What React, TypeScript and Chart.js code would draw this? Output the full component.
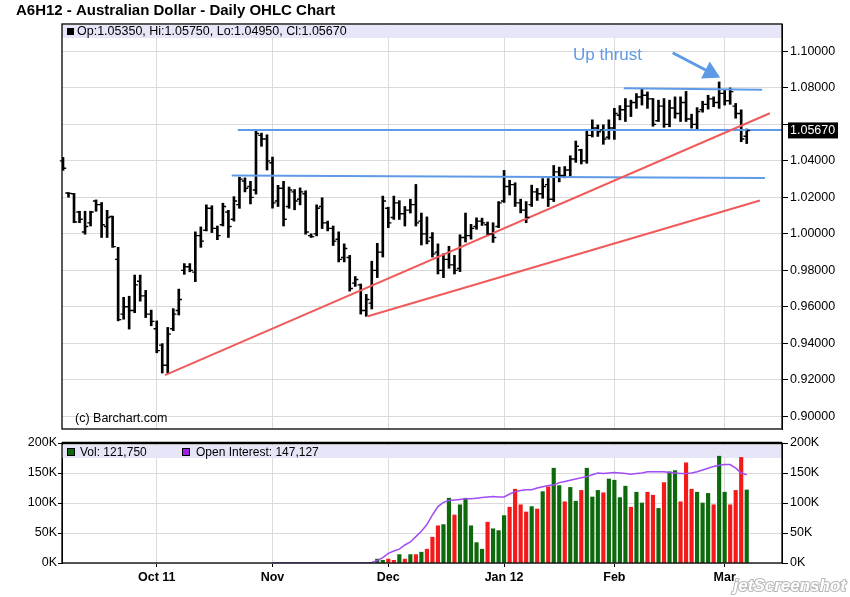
import React, { useEffect, useRef } from 'react';
import { Chart, registerables } from 'chart.js';

Chart.register(...registerables);

// ---- Data (trading-day index 0 = first bar shown, early Sep 2011) ----
const highs = [
  1.0419, 1.0226, 1.0222, 1.0124, 1.0124, 1.0124, 1.0186, 1.0172, 1.0129, 1.0097,
  0.9926, 0.9652, 0.9658, 0.9774, 0.9774, 0.9690, 0.9582, 0.9523, 0.9398, 0.9487,
  0.9590, 0.9697, 0.9837, 0.9837, 1.0011, 1.0038, 1.0159, 1.0154, 1.0043, 1.0168,
  1.0129, 1.0204, 1.0311, 1.0307, 1.0288, 1.0564, 1.0552, 1.0543, 1.0421, 1.0266,
  1.0288, 1.0257, 1.0243, 1.0252, 1.0236, 1.0000, 1.0159, 1.0198, 1.0070, 1.0043,
  1.0011, 0.9945, 0.9882, 0.9766, 0.9725, 0.9668, 0.9850, 0.9948, 1.0207, 1.0146,
  1.0207, 1.0182, 1.0150, 1.0190, 1.0271, 1.0114, 1.0093, 1.0007, 0.9945, 0.9891,
  0.9932, 0.9882, 0.9995, 1.0114, 1.0052, 1.0088, 1.0086, 1.0065, 1.0061, 1.0177,
  1.0348, 1.0294, 1.0280, 1.0190, 1.0177, 1.0267, 1.0249, 1.0303, 1.0303, 1.0375,
  1.0366, 1.0369, 1.0428, 1.0509, 1.0464, 1.0563, 1.0625, 1.0597, 1.0598, 1.0625,
  1.0688, 1.0703, 1.0742, 1.0733, 1.0769, 1.0796, 1.0778, 1.0742, 1.0733, 1.0742,
  1.0733, 1.0751, 1.0751, 1.0781, 1.0656, 1.0692, 1.0727, 1.0760, 1.0751, 1.0833,
  1.0787, 1.0800, 1.0715, 1.0680, 1.0575,
];
const lows = [
  1.0348, 1.0201, 1.0061, 1.0061, 0.9998, 1.0043, 1.0124, 0.9980, 0.9980, 0.9926,
  0.9523, 0.9532, 0.9478, 0.9568, 0.9631, 0.9541, 0.9496, 0.9348, 0.9237, 0.9237,
  0.9469, 0.9555, 0.9778, 0.9792, 0.9738, 0.9926, 1.0016, 1.0007, 0.9968, 1.0043,
  0.9980, 1.0070, 1.0140, 1.0230, 1.0164, 1.0218, 1.0480, 1.0350, 1.0141, 1.0150,
  1.0043, 1.0140, 1.0132, 1.0159, 0.9998, 0.9980, 0.9989, 1.0029, 1.0016, 0.9936,
  0.9846, 0.9846, 0.9686, 0.9712, 0.9560, 0.9548, 0.9588, 0.9760, 0.9873, 1.0034,
  1.0079, 1.0079, 1.0043, 1.0114, 1.0043, 0.9939, 0.9945, 0.9873, 0.9780, 0.9760,
  0.9811, 0.9780, 0.9793, 0.9955, 0.9971, 1.0025, 1.0046, 0.9989, 0.9953, 1.0034,
  1.0172, 1.0213, 1.0150, 1.0115, 1.0061, 1.0150, 1.0183, 1.0195, 1.0150, 1.0177,
  1.0285, 1.0307, 1.0316, 1.0392, 1.0383, 1.0387, 1.0531, 1.0534, 1.0491, 1.0519,
  1.0518, 1.0625, 1.0616, 1.0643, 1.0688, 1.0706, 1.0688, 1.0590, 1.0616, 1.0584,
  1.0587, 1.0634, 1.0616, 1.0616, 1.0580, 1.0566, 1.0667, 1.0684, 1.0697, 1.0688,
  1.0706, 1.0710, 1.0634, 1.0505, 1.0495,
];
const opens = [
  1.0400, 1.0224, 1.0220, 1.0120, 1.0010, 1.0060, 1.0180, 1.0160, 1.0040, 1.0095,
  0.9860, 0.9560, 0.9600, 0.9580, 0.9740, 0.9660, 0.9560, 0.9480, 0.9390, 0.9280,
  0.9480, 0.9580, 0.9800, 0.9820, 0.9790, 0.9990, 1.0020, 1.0140, 1.0030, 1.0050,
  1.0120, 1.0080, 1.0160, 1.0290, 1.0260, 1.0240, 1.0540, 1.0520, 1.0390, 1.0180,
  1.0250, 1.0150, 1.0230, 1.0190, 1.0220, 0.9990, 1.0000, 1.0150, 1.0060, 1.0030,
  0.9970, 0.9870, 0.9870, 0.9730, 0.9720, 0.9580, 0.9620, 0.9800, 0.9900, 1.0140,
  1.0090, 1.0170, 1.0110, 1.0130, 1.0160, 1.0070, 1.0000, 0.9980, 0.9900, 0.9800,
  0.9860, 0.9830, 0.9810, 0.9980, 0.9990, 1.0040, 1.0070, 1.0050, 1.0000, 1.0040,
  1.0180, 1.0260, 1.0270, 1.0170, 1.0130, 1.0160, 1.0230, 1.0220, 1.0270, 1.0190,
  1.0340, 1.0320, 1.0350, 1.0410, 1.0460, 1.0400, 1.0540, 1.0580, 1.0570, 1.0530,
  1.0580, 1.0650, 1.0680, 1.0700, 1.0720, 1.0750, 1.0760, 1.0740, 1.0620, 1.0700,
  1.0600, 1.0690, 1.0660, 1.0720, 1.0630, 1.0600, 1.0680, 1.0710, 1.0740, 1.0720,
  1.0770, 1.0730, 1.0700, 1.0660, 1.0535,
];
const closes = [
  1.0360, 1.0222, 1.0065, 1.0080, 1.0040, 1.0120, 1.0160, 1.0050, 1.0090, 0.9930,
  0.9530, 0.9600, 0.9580, 0.9720, 0.9660, 0.9560, 0.9520, 0.9360, 0.9280, 0.9450,
  0.9560, 0.9640, 0.9820, 0.9800, 0.9990, 0.9960, 1.0140, 1.0030, 0.9990, 1.0150,
  1.0040, 1.0180, 1.0300, 1.0250, 1.0200, 1.0550, 1.0520, 1.0400, 1.0170, 1.0250,
  1.0080, 1.0240, 1.0180, 1.0230, 1.0010, 0.9985, 1.0140, 1.0060, 1.0030, 0.9960,
  0.9860, 0.9920, 0.9700, 0.9750, 0.9580, 0.9640, 0.9800, 0.9900, 1.0180, 1.0060,
  1.0170, 1.0110, 1.0130, 1.0160, 1.0060, 1.0000, 0.9960, 0.9890, 0.9800, 0.9860,
  0.9830, 0.9800, 0.9980, 0.9990, 1.0030, 1.0070, 1.0060, 1.0000, 0.9980, 1.0170,
  1.0260, 1.0270, 1.0170, 1.0130, 1.0090, 1.0230, 1.0220, 1.0260, 1.0190, 1.0340,
  1.0320, 1.0350, 1.0410, 1.0480, 1.0400, 1.0540, 1.0580, 1.0560, 1.0520, 1.0580,
  1.0660, 1.0680, 1.0700, 1.0720, 1.0750, 1.0760, 1.0740, 1.0600, 1.0700, 1.0600,
  1.0690, 1.0660, 1.0720, 1.0630, 1.0600, 1.0670, 1.0710, 1.0740, 1.0720, 1.0770,
  1.0730, 1.0780, 1.0660, 1.0520, 1.0567,
];

// Volume (thousands of contracts), first value is trading day 57
const volumeStart = 57;
const volumeK = [
  6.5, 4.5, 6.5, 4.5, 14, 6.5, 14, 14, 18, 23,
  43, 62, 64, 108, 80, 97, 108, 62, 34, 23,
  68, 57, 54, 79, 93, 123, 97, 85, 94, 90,
  119, 127, 158, 129, 102, 126, 103, 121, 158, 110,
  121, 117, 140, 138, 109, 128, 93, 118, 100, 118,
  113, 91, 134, 152, 154, 102, 167, 123, 118, 100,
  116, 97, 178, 118, 97, 121, 176, 121.75,
];
// 1 = up day (green), 0 = down day (red)
const volumeUp = [
  1, 1, 0, 0, 1, 0, 1, 0, 1, 0,
  0, 0, 1, 1, 0, 1, 1, 1, 1, 1,
  0, 1, 1, 1, 0, 0, 0, 0, 1, 0,
  1, 0, 1, 1, 0, 1, 1, 0, 1, 1,
  1, 0, 1, 1, 1, 1, 0, 1, 1, 0,
  0, 1, 0, 1, 1, 0, 0, 0, 1, 1,
  1, 0, 1, 1, 0, 0, 0, 1,
];
// Open interest (thousands), first value is trading day 38
const oiStart = 38;
const openInterestK = [
  0, 0, 0, 0, 0, 0, 0, 0, 0, 0,
  0, 0, 0, 0, 0, 0, 0, 0, 1, 4,
  9, 16, 20, 23, 30, 35, 44, 53, 64, 80,
  94, 101, 104, 105, 106, 107, 107, 108, 109, 110,
  111, 110, 110, 115, 119, 121, 122, 122, 125, 127,
  129, 130, 134, 136, 138, 140, 142, 144, 147, 150,
  149, 150, 151, 150, 149, 148, 149, 150, 152, 152,
  152, 152, 151, 150, 149, 149, 150, 152, 155, 158,
  161, 163, 164, 164, 158, 150, 147.127,
];

const monthTicks = [17, 38, 59, 80, 100, 120];
const monthLabels = ['Oct 11', 'Nov', 'Dec', 'Jan 12', 'Feb', 'Mar'];
const priceTicks = [0.90, 0.92, 0.94, 0.96, 0.98, 1.00, 1.02, 1.04, 1.06, 1.08, 1.10];
const volumeTicks = [0, 50, 100, 150, 200];

// Drawn study lines, in [trading-day index, price]
const supportLines = [
  [[18.5, 0.92258], [128.2, 1.06613]],
  [[55.3, 0.95484], [126.4, 1.01828]],
];
const resistanceLines = [
  [[31.7, 1.05699], [130.4, 1.05699]],
  [[30.6, 1.03199], [127.3, 1.03065]],
  [[101.7, 1.07984], [126.8, 1.07903]],
];
const arrowPath = [[110.57, 1.0993], [117.4, 1.08844]];
const annotationText = 'Up thrust';
const annotationAt = [92.5, 1.0952];

const titleText = 'A6H12 - Australian Dollar - Daily OHLC Chart';
const copyrightText = '(c) Barchart.com';

// ---- Styling ----
const FONT = '"Liberation Sans", Arial, Helvetica, sans-serif';
const GRID = '#dadada';
const BAND = '#e6e6f8';
const BLUE = '#5f9ae6';
const RED = '#f05a5a';
const VOL_GREEN = '#0c6a0c';
const VOL_RED = '#f41a1a';
const OI_PURPLE = '#a24cf6';
const X_MIN = -0.18;
const X_MAX = 130.4;
const PRICE_MIN = 0.89301;
const PRICE_MAX = 1.11505;

const last = closes.length - 1;
const fmtInt = (v: number) => Math.round(v).toLocaleString('en-US');
const priceLegend = `Op:${opens[last].toFixed(5)}, Hi:${highs[last].toFixed(5)}, Lo:${lows[last].toFixed(5)}, Cl:${closes[last].toFixed(5)}`;
const volLegend = `Vol: ${fmtInt(volumeK[volumeK.length - 1] * 1000)}`;
const oiLegend = `Open Interest: ${fmtInt(openInterestK[openInterestK.length - 1] * 1000)}`;

function monthAxis(showLabels: boolean, height: number) {
  return {
    type: 'linear',
    min: X_MIN,
    max: X_MAX,
    offset: false,
    afterBuildTicks: (s: any) => {
      s.ticks = monthTicks.map((v) => ({ value: v }));
    },
    afterFit: (s: any) => {
      s.height = height;
    },
    grid: { color: GRID, offset: false, drawTicks: showLabels, tickLength: 4, tickColor: '#000' },
    border: { display: false },
    ticks: {
      display: showLabels,
      autoSkip: false,
      maxRotation: 0,
      minRotation: 0,
      padding: 3,
      color: '#000',
      font: { family: FONT, size: 12.5, weight: 'bold' },
      callback: (_v: any, i: number) => monthLabels[i] ?? '',
    },
  };
}

const pricePlugin = {
  id: 'priceDecor',
  beforeDatasetsDraw(chart: any) {
    const { ctx, chartArea: a } = chart;
    ctx.save();
    ctx.fillStyle = BAND;
    ctx.fillRect(a.left, a.top + 1, a.right - a.left, 13);
    ctx.fillStyle = '#000';
    ctx.fillRect(a.left + 5, a.top + 4, 7, 7);
    ctx.font = `12.5px ${FONT}`;
    ctx.textBaseline = 'middle';
    ctx.textAlign = 'left';
    ctx.fillText(priceLegend, a.left + 15, a.top + 8);
    ctx.restore();
  },
  afterDatasetsDraw(chart: any) {
    const { ctx, scales } = chart;
    const xs = scales.x;
    const ys = scales.y;
    ctx.save();
    ctx.strokeStyle = '#000';
    ctx.lineWidth = 1.4;
    ctx.beginPath();
    for (let i = 0; i < opens.length; i++) {
      const x = xs.getPixelForValue(i);
      const yo = ys.getPixelForValue(opens[i]);
      const yc = ys.getPixelForValue(closes[i]);
      ctx.moveTo(x - 3.2, yo);
      ctx.lineTo(x, yo);
      ctx.moveTo(x, yc);
      ctx.lineTo(x + 3.2, yc);
    }
    ctx.stroke();
    ctx.fillStyle = BLUE;
    ctx.font = `17px ${FONT}`;
    ctx.textBaseline = 'alphabetic';
    ctx.textAlign = 'left';
    ctx.fillText(annotationText, xs.getPixelForValue(annotationAt[0]), ys.getPixelForValue(annotationAt[1]));
    ctx.restore();
  },
  afterDraw(chart: any) {
    const { ctx, chartArea: a, scales } = chart;
    ctx.save();
    ctx.strokeStyle = '#000';
    ctx.lineWidth = 1.3;
    ctx.strokeRect(a.left, a.top, a.right - a.left, a.bottom - a.top);
    ctx.fillStyle = '#000';
    ctx.font = `12.5px ${FONT}`;
    ctx.textBaseline = 'middle';
    ctx.textAlign = 'left';
    ctx.fillText(copyrightText, a.left + 13, a.bottom - 10);
    // current price box
    const yc = scales.y.getPixelForValue(closes[last]);
    ctx.fillStyle = '#000';
    ctx.fillRect(a.right + 6, yc - 8, 50, 16);
    ctx.fillStyle = '#fff';
    ctx.fillText(closes[last].toFixed(5), a.right + 8, yc + 0.5);
    // title
    ctx.fillStyle = '#000';
    ctx.font = `bold 15px ${FONT}`;
    ctx.textBaseline = 'alphabetic';
    ctx.fillText(titleText, 16, 15);
    ctx.restore();
  },
};

const volumePlugin = {
  id: 'volumeDecor',
  beforeDatasetsDraw(chart: any) {
    const { ctx, chartArea: a } = chart;
    ctx.save();
    ctx.fillStyle = BAND;
    ctx.fillRect(a.left, a.top + 2, a.right - a.left, 13);
    ctx.strokeStyle = '#000';
    ctx.lineWidth = 1;
    ctx.fillStyle = VOL_GREEN;
    ctx.fillRect(a.left + 5, a.top + 5, 8, 8);
    ctx.strokeRect(a.left + 5.5, a.top + 5.5, 7, 7);
    ctx.fillStyle = '#9b20e8';
    ctx.fillRect(a.left + 120, a.top + 5, 8, 8);
    ctx.strokeRect(a.left + 120.5, a.top + 5.5, 7, 7);
    ctx.fillStyle = '#000';
    ctx.font = `12px ${FONT}`;
    ctx.textBaseline = 'middle';
    ctx.textAlign = 'left';
    ctx.fillText(volLegend, a.left + 18, a.top + 9.5);
    ctx.fillText(oiLegend, a.left + 134, a.top + 9.5);
    ctx.restore();
  },
  afterDraw(chart: any) {
    const { ctx, chartArea: a, width, height } = chart;
    ctx.save();
    ctx.strokeStyle = '#000';
    ctx.lineWidth = 1.3;
    ctx.strokeRect(a.left, a.top, a.right - a.left, a.bottom - a.top);
    ctx.lineWidth = 2.5;
    ctx.beginPath();
    ctx.moveTo(a.left, a.top);
    ctx.lineTo(a.right, a.top);
    ctx.stroke();
    // screenshot watermark
    ctx.font = `italic bold 17px ${FONT}`;
    ctx.textAlign = 'right';
    ctx.textBaseline = 'alphabetic';
    ctx.lineWidth = 2;
    ctx.strokeStyle = '#b8b8b8';
    ctx.strokeText('jetScreenshot', width - 4, height - 6);
    ctx.fillStyle = '#ffffff';
    ctx.fillText('jetScreenshot', width - 4, height - 6);
    ctx.restore();
  },
};

export default function App() {
  const priceRef = useRef<HTMLCanvasElement>(null);
  const volRef = useRef<HTMLCanvasElement>(null);

  useEffect(() => {
    Chart.defaults.font.family = FONT;
    const lineSet = (pts: number[][], color: string) => ({
      type: 'line',
      data: pts.map(([x, y]) => ({ x, y })),
      borderColor: color,
      borderWidth: 2,
      pointRadius: 0,
      order: 0,
    });

    const priceChart = new Chart(priceRef.current as HTMLCanvasElement, {
      type: 'bar',
      data: {
        datasets: [
          {
            type: 'bar',
            data: highs.map((h, i) => ({ x: i, y: [lows[i], h] })),
            backgroundColor: '#000',
            borderWidth: 0,
            barThickness: 2,
            order: 1,
          },
          ...supportLines.map((p) => lineSet(p, RED)),
          ...resistanceLines.map((p) => lineSet(p, BLUE)),
          {
            type: 'line',
            data: arrowPath.map(([x, y]) => ({ x, y })),
            borderColor: BLUE,
            borderWidth: 3,
            pointRadius: [0, 8],
            pointStyle: 'triangle',
            pointRotation: 117,
            pointBackgroundColor: BLUE,
            pointBorderColor: BLUE,
            order: 0,
          },
        ] as any,
      },
      options: {
        responsive: false,
        animation: false,
        layout: { padding: { left: 62, top: 24, right: 0, bottom: 3 } },
        plugins: { legend: { display: false }, tooltip: { enabled: false } },
        scales: {
          x: monthAxis(false, 0) as any,
          y: {
            type: 'linear',
            position: 'right',
            min: PRICE_MIN,
            max: PRICE_MAX,
            afterBuildTicks: (s: any) => {
              s.ticks = priceTicks.map((v) => ({ value: v }));
            },
            afterFit: (s: any) => {
              s.width = 68;
            },
            grid: { color: GRID, tickColor: '#000', tickLength: 6 },
            border: { color: '#000' },
            ticks: {
              padding: 2,
              color: '#000',
              font: { family: FONT, size: 12.5 },
              callback: (v: any) =>
                Math.abs(Number(v) - closes[last]) < 0.008 ? '' : Number(v).toFixed(5),
            },
          } as any,
        },
      },
      plugins: [pricePlugin],
    });

    const volChart = new Chart(volRef.current as HTMLCanvasElement, {
      type: 'bar',
      data: {
        datasets: [
          {
            type: 'bar',
            data: volumeK.map((v, k) => ({ x: volumeStart + k, y: v })),
            backgroundColor: volumeUp.map((u) => (u ? VOL_GREEN : VOL_RED)),
            borderWidth: 0,
            barThickness: 3.5,
            order: 1,
          },
          {
            type: 'line',
            data: openInterestK.map((v, k) => ({ x: oiStart + k, y: v })),
            borderColor: OI_PURPLE,
            borderWidth: 1.5,
            pointRadius: 0,
            order: 0,
          },
        ] as any,
      },
      options: {
        responsive: false,
        animation: false,
        layout: { padding: { left: 0, top: 15, right: 0, bottom: 0 } },
        plugins: { legend: { display: false }, tooltip: { enabled: false } },
        scales: {
          x: monthAxis(true, 34) as any,
          y: {
            type: 'linear',
            position: 'left',
            min: 0,
            max: 200,
            afterBuildTicks: (s: any) => {
              s.ticks = volumeTicks.map((v) => ({ value: v }));
            },
            afterFit: (s: any) => {
              s.width = 62;
            },
            grid: { color: GRID, tickColor: '#000', tickLength: 4 },
            border: { color: '#000' },
            ticks: { padding: 1, color: '#000', font: { family: FONT, size: 12.5 }, callback: (v: any) => `${v}K` },
          } as any,
          yR: {
            type: 'linear',
            position: 'right',
            min: 0,
            max: 200,
            afterBuildTicks: (s: any) => {
              s.ticks = volumeTicks.map((v) => ({ value: v }));
            },
            afterFit: (s: any) => {
              s.width = 68;
            },
            grid: { drawOnChartArea: false, tickColor: '#000', tickLength: 6 },
            border: { color: '#000' },
            ticks: { padding: 2, color: '#000', font: { family: FONT, size: 12.5 }, callback: (v: any) => `${v}K` },
          } as any,
        },
      },
      plugins: [volumePlugin],
    });

    return () => {
      priceChart.destroy();
      volChart.destroy();
    };
  }, []);

  return (
    <div
      style={{
        position: 'fixed',
        left: 0,
        top: 0,
        width: 850,
        height: 597,
        background: '#fff',
        overflow: 'hidden',
      }}
    >
      <canvas
        ref={priceRef}
        width={850}
        height={440}
        style={{ position: 'absolute', left: 0, top: 0, width: 850, height: 440 }}
      />
      <canvas
        ref={volRef}
        width={850}
        height={169}
        style={{ position: 'absolute', left: 0, top: 428, width: 850, height: 169 }}
      />
    </div>
  );
}
